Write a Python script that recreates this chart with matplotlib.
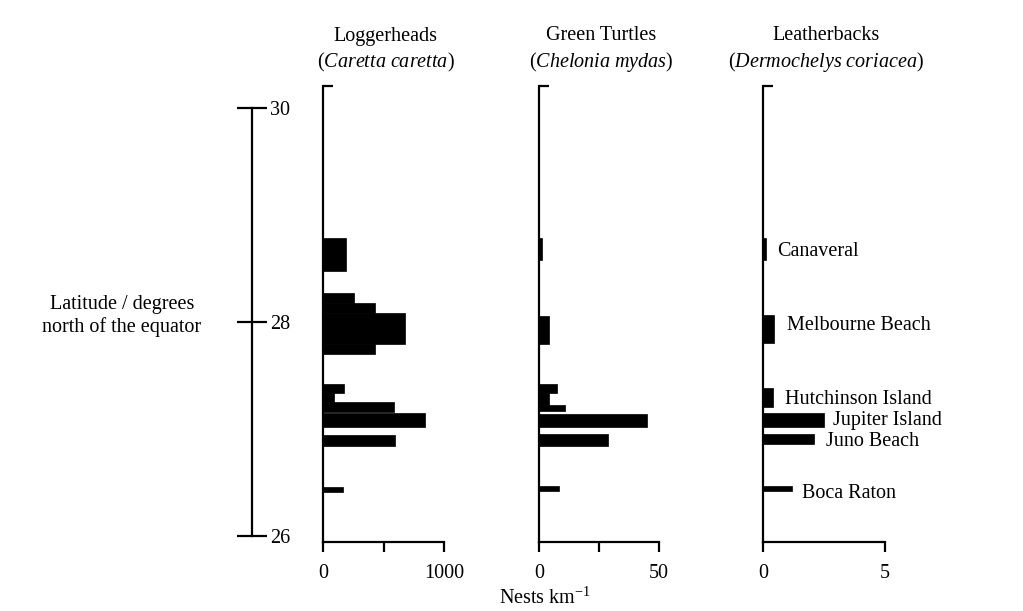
import matplotlib
matplotlib.use("Agg")
import matplotlib.pyplot as plt

plt.rcParams["font.family"] = ["Liberation Serif", "DejaVu Serif"]
plt.rcParams["mathtext.fontset"] = "custom"
plt.rcParams["mathtext.rm"] = "Liberation Serif"
plt.rcParams["mathtext.it"] = "Liberation Serif:italic"
FS = 14.5

# nest density per latitude band: (lower lat, upper lat, nests per km)
logger_bands = [
    (28.48, 28.79, 190),
    (28.18, 28.27, 256),
    (28.08, 28.18, 430),
    (27.79, 28.08, 678),
    (27.70, 27.79, 430),
    (27.34, 27.42, 174),
    (27.25, 27.34, 91),
    (27.16, 27.25, 587),
    (27.02, 27.15, 843),
    (26.84, 26.94, 595),
    (26.41, 26.46, 165),
]
green_bands = [
    (28.58, 28.79, 1.2),
    (27.79, 28.06, 4.2),
    (27.34, 27.42, 7.5),
    (27.22, 27.34, 4.2),
    (27.17, 27.22, 10.8),
    (27.02, 27.14, 45),
    (26.84, 26.95, 28.7),
    (26.42, 26.47, 8.3),
]
leather_bands = [
    (28.58, 28.79, 0.12),
    (27.80, 28.07, 0.45),
    (27.21, 27.38, 0.41),
    (27.02, 27.15, 2.5),
    (26.86, 26.95, 2.09),
    (26.42, 26.47, 1.19),
]
beaches = ["Canaveral", "Melbourne Beach", "Hutchinson Island",
           "Jupiter Island", "Juno Beach", "Boca Raton"]

titles = ["Loggerheads", "Green Turtles", "Leatherbacks"]
species = ["Caretta\\ caretta", "Chelonia\\ mydas", "Dermochelys\\ coriacea"]
xmax = [1000, 50, 5]
xtick_labels = [["0", "1000"], ["0", "50"], ["0", "5"]]
mid_tick = [True, True, False]

W, H = 1023, 611
fig = plt.figure(figsize=(W / 100, H / 100), dpi=100)

YLO, YHI = 25.944, 30.206
bottom = 1 - 542 / H
height = (542 - 86) / H
panel_x = [(323, 444), (539, 659), (763, 885)]


def fx(px):
    return px / W


def fy(py):
    return 1 - py / H


panels = [logger_bands, green_bands, leather_bands]
for i, bands in enumerate(panels):
    x0, x1 = panel_x[i]
    ax = fig.add_axes([fx(x0), bottom, fx(x1 - x0), height])
    lo = [b[0] for b in bands]
    hi = [b[1] for b in bands]
    val = [b[2] for b in bands]
    ax.barh(lo, val, height=[h - l for l, h in zip(lo, hi)], align="edge",
            color="black", edgecolor="black", linewidth=0.5)
    ax.set_xlim(0, xmax[i])
    ax.set_ylim(YLO, YHI)
    for s in ["top", "right"]:
        ax.spines[s].set_visible(False)
    for s in ["left", "bottom"]:
        ax.spines[s].set_linewidth(1.6)
    if mid_tick[i]:
        ax.set_xticks([0, xmax[i] / 2, xmax[i]])
        ax.set_xticklabels([xtick_labels[i][0], "", xtick_labels[i][1]], fontsize=FS)
    else:
        ax.set_xticks([0, xmax[i]])
        ax.set_xticklabels(xtick_labels[i], fontsize=FS)
    ax.tick_params(axis="x", direction="out", length=7, width=1.6, pad=9)
    # little cap at the top of the latitude spine
    ax.set_yticks([YHI])
    ax.set_yticklabels([])
    ax.tick_params(axis="y", direction="in", length=7, width=1.6)
    ax.patch.set_visible(False)

    cx = fx((x0 + x1) / 2 + 2)
    fig.text(cx, fy(36), titles[i], ha="center", va="center", fontsize=FS)
    fig.text(cx, fy(62), "($\\mathit{" + species[i] + "}$)", ha="center",
             va="center", fontsize=FS)

# beach names beside the leatherback bars
label_pos = [(777, 251), (787, 326), (785, 399), (833, 420), (826, 442), (802, 493)]
for name, (px, py) in zip(beaches, label_pos):
    fig.text(fx(px), fy(py), name, ha="left", va="center", fontsize=FS)

# latitude scale
lat = fig.add_axes([fx(200), bottom, fx(52), height])
lat.set_ylim(YLO, YHI)
lat.set_xlim(0, 1)
for s in ["top", "left", "bottom"]:
    lat.spines[s].set_visible(False)
lat.spines["right"].set_linewidth(1.6)
lat.spines["right"].set_bounds(26, 30)
lat.yaxis.tick_right()
lat.set_yticks([26, 28, 30])
lat.set_yticklabels(["26", "28", "30"], fontsize=FS)
lat.tick_params(axis="y", direction="inout", length=22, width=1.6, pad=2)
lat.set_xticks([])
lat.patch.set_visible(False)

fig.text(fx(122), fy(316), "Latitude / degrees\nnorth of the equator",
         ha="center", va="center", fontsize=FS, linespacing=1.2)

fig.text(fx(545), fy(598), "Nests km$^{-1}$", ha="center", va="center",
         fontsize=FS)

fig.savefig("out.png", dpi=100)
